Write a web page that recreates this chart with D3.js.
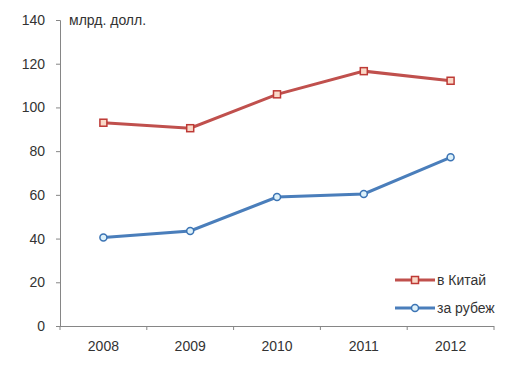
<!DOCTYPE html>
<html>
<head>
<meta charset="utf-8">
<script src="https://cdn.jsdelivr.net/npm/d3@7"></script>
<style>
  body { margin: 0; background: #fff; }
  text { font-family: Arial, "Liberation Sans", sans-serif; fill: #333; }
</style>
</head>
<body>
<div id="chart-area"></div>
<script>
// data
var years = ["2008", "2009", "2010", "2011", "2012"];
var chinaValues = [93, 90.5, 106, 116.6, 112.2];
var abroadValues = [40.5, 43.5, 59, 60.4, 77.2];
var yTicks = [0, 20, 40, 60, 80, 100, 120, 140];
var seriesNames = ["в Китай", "за рубеж"];

var margin = { left: 60, right: 16, top: 20, bottom: 45 };
var width = 510 - margin.left - margin.right;
var height = 371 - margin.top - margin.bottom;

var svg = d3.select("#chart-area").append("svg")
    .attr("width", 510)
    .attr("height", 371);

var g = svg.append("g")
    .attr("transform", "translate(" + margin.left + ", " + margin.top + ")");

var x = d3.scaleBand()
    .domain(years)
    .range([0, width]);

var y = d3.scaleLinear()
    .domain([0, 140])
    .range([height, 0]);

// axes
var leftAxis = d3.axisLeft(y).tickValues(yTicks).tickSize(4).tickPadding(11);
var yAxisG = g.append("g").attr("class", "left axis").call(leftAxis);
yAxisG.select(".domain").attr("stroke", "#868686").attr("d", "M-4,0.5H0.5V" + height);
yAxisG.selectAll("line").attr("stroke", "#868686");
yAxisG.selectAll("text").attr("font-size", "14px").style("fill", "#333");

var bottomAxis = d3.axisBottom(x).tickSize(0).tickPadding(15);
var xAxisG = g.append("g")
    .attr("class", "bottom axis")
    .attr("transform", "translate(0, " + height + ")")
    .call(bottomAxis);
xAxisG.select(".domain").attr("stroke", "#868686").attr("d", "M0,0.5H" + width);
xAxisG.selectAll("text").attr("font-size", "14px").style("fill", "#333");

// category boundary ticks
var bounds = years.map(function(d) { return x(d); }).concat([width]);
xAxisG.selectAll(".btick")
    .data(bounds)
    .enter()
    .append("line")
    .attr("class", "btick")
    .attr("x1", function(d) { return d; })
    .attr("x2", function(d) { return d; })
    .attr("y1", 0)
    .attr("y2", 4)
    .attr("stroke", "#868686");

// unit label
g.append("text")
    .attr("x", 9)
    .attr("y", 5)
    .attr("font-size", "14px")
    .text("млрд. долл.");

var line = d3.line()
    .x(function(d, i) { return x(years[i]) + x.bandwidth() / 2; })
    .y(function(d) { return y(d); });

// series
g.append("path")
    .datum(chinaValues)
    .attr("fill", "none")
    .attr("stroke", "#C0504D")
    .attr("stroke-width", 3)
    .attr("d", line);

g.append("path")
    .datum(abroadValues)
    .attr("fill", "none")
    .attr("stroke", "#4A7EBB")
    .attr("stroke-width", 3)
    .attr("d", line);

g.selectAll(".sq")
    .data(chinaValues)
    .enter()
    .append("rect")
    .attr("class", "sq")
    .attr("x", function(d, i) { return x(years[i]) + x.bandwidth() / 2 - 3.5; })
    .attr("y", function(d) { return y(d) - 3.5; })
    .attr("width", 7)
    .attr("height", 7)
    .attr("fill", "#F9D9C8")
    .attr("stroke", "#BE3A36")
    .attr("stroke-width", 1.5);

g.selectAll(".dot")
    .data(abroadValues)
    .enter()
    .append("circle")
    .attr("class", "dot")
    .attr("cx", function(d, i) { return x(years[i]) + x.bandwidth() / 2; })
    .attr("cy", function(d) { return y(d); })
    .attr("r", 3.5)
    .attr("fill", "#DDF1FA")
    .attr("stroke", "#3C74B4")
    .attr("stroke-width", 1.5);

// legend
var legend = svg.append("g").attr("transform", "translate(395, 280)");
var colors = ["#C0504D", "#4A7EBB"];
seriesNames.forEach(function(name, i) {
    var lg = legend.append("g").attr("transform", "translate(0, " + (i * 28) + ")");
    lg.append("line")
        .attr("x1", 0).attr("x2", 40)
        .attr("y1", 0).attr("y2", 0)
        .attr("stroke", colors[i])
        .attr("stroke-width", 3);
    if (i === 0) {
        lg.append("rect")
            .attr("x", 16.5).attr("y", -3.5)
            .attr("width", 7).attr("height", 7)
            .attr("fill", "#F9D9C8")
            .attr("stroke", "#BE3A36")
            .attr("stroke-width", 1.5);
    } else {
        lg.append("circle")
            .attr("cx", 20).attr("cy", 0).attr("r", 3.5)
            .attr("fill", "#DDF1FA")
            .attr("stroke", "#3C74B4")
            .attr("stroke-width", 1.5);
    }
    lg.append("text")
        .attr("x", 42)
        .attr("y", 5)
        .attr("font-size", "14px")
        .text(name);
});
</script>
</body>
</html>
